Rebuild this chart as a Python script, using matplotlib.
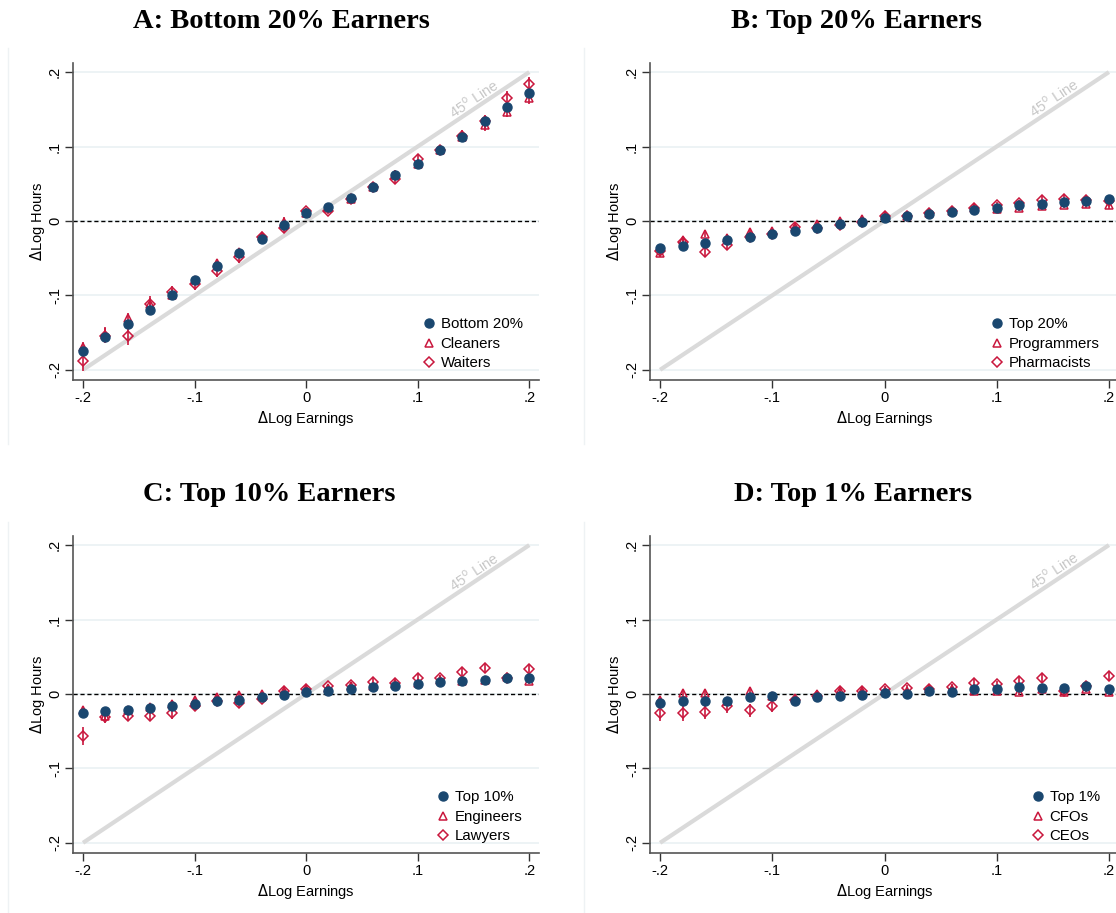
import matplotlib
matplotlib.use("Agg")
import matplotlib.pyplot as plt
from matplotlib.lines import Line2D

# x bins of log earnings change
x = [-0.20, -0.18, -0.16, -0.14, -0.12, -0.10, -0.08, -0.06, -0.04, -0.02, 0.00,
     0.02, 0.04, 0.06, 0.08, 0.10, 0.12, 0.14, 0.16, 0.18, 0.20]

# Panel A
bottom20 = [-0.175, -0.156, -0.138, -0.120, -0.100, -0.079, -0.061, -0.043, -0.024, -0.006, 0.011,
            0.019, 0.031, 0.045, 0.062, 0.077, 0.095, 0.113, 0.134, 0.153, 0.172]
cleaners = [-0.170, -0.153, -0.131, -0.111, -0.099, -0.080, -0.057, -0.042, -0.020, -0.001, 0.011,
            0.017, 0.029, 0.046, 0.062, 0.077, 0.095, 0.113, 0.129, 0.147, 0.165]
waiters = [-0.188, -0.154, -0.155, -0.111, -0.096, -0.085, -0.067, -0.049, -0.021, -0.010, 0.013,
           0.014, 0.029, 0.045, 0.057, 0.083, 0.095, 0.114, 0.134, 0.165, 0.184]
cleaners_ci = [0.007, 0.010, 0.007, 0.008, 0.007, 0.006, 0.006, 0.006, 0.005, 0.006, 0.004,
               0.004, 0.005, 0.006, 0.006, 0.006, 0.007, 0.007, 0.008, 0.008, 0.008]
waiters_ci = [0.013, 0.010, 0.012, 0.010, 0.009, 0.008, 0.008, 0.007, 0.006, 0.006, 0.005,
              0.005, 0.005, 0.006, 0.006, 0.007, 0.007, 0.008, 0.009, 0.010, 0.010]

# Panel B
top20 = [-0.036, -0.033, -0.030, -0.026, -0.022, -0.017, -0.013, -0.010, -0.004, -0.001, 0.004,
         0.007, 0.009, 0.012, 0.015, 0.018, 0.021, 0.023, 0.026, 0.027, 0.030]
programmers = [-0.043, -0.025, -0.017, -0.023, -0.015, -0.013, -0.008, -0.004, 0.000, 0.002, 0.007,
               0.007, 0.011, 0.014, 0.017, 0.016, 0.017, 0.020, 0.022, 0.023, 0.021]
pharmacists = [-0.040, -0.028, -0.042, -0.032, -0.021, -0.017, -0.008, -0.010, -0.005, -0.002, 0.006,
               0.007, 0.011, 0.014, 0.017, 0.021, 0.024, 0.028, 0.030, 0.028, 0.027]
programmers_ci = [0.006, 0.005, 0.005, 0.005, 0.005, 0.004, 0.004, 0.004, 0.004, 0.004, 0.003,
                  0.003, 0.003, 0.004, 0.004, 0.004, 0.004, 0.005, 0.005, 0.005, 0.005]
pharmacists_ci = [0.006, 0.005, 0.006, 0.006, 0.005, 0.004, 0.004, 0.004, 0.004, 0.004, 0.003,
                  0.003, 0.003, 0.004, 0.004, 0.004, 0.004, 0.005, 0.005, 0.005, 0.005]

# Panel C
top10 = [-0.025, -0.023, -0.022, -0.019, -0.016, -0.013, -0.010, -0.008, -0.004, -0.001, 0.003,
         0.004, 0.007, 0.009, 0.011, 0.013, 0.016, 0.017, 0.019, 0.021, 0.022]
engineers = [-0.022, -0.029, -0.022, -0.017, -0.014, -0.008, -0.004, -0.002, 0.000, 0.004, 0.006,
             0.008, 0.010, 0.010, 0.014, 0.015, 0.019, 0.017, 0.019, 0.023, 0.017]
lawyers = [-0.057, -0.031, -0.029, -0.029, -0.026, -0.016, -0.010, -0.012, -0.007, 0.004, 0.006,
           0.010, 0.012, 0.016, 0.015, 0.022, 0.021, 0.030, 0.035, 0.021, 0.033]
engineers_ci = [0.004, 0.007, 0.005, 0.004, 0.004, 0.004, 0.004, 0.004, 0.003, 0.003, 0.003,
                0.003, 0.003, 0.003, 0.003, 0.003, 0.003, 0.004, 0.004, 0.004, 0.004]
lawyers_ci = [0.012, 0.008, 0.008, 0.008, 0.007, 0.006, 0.005, 0.005, 0.004, 0.004, 0.004,
              0.004, 0.004, 0.005, 0.005, 0.005, 0.005, 0.006, 0.006, 0.006, 0.006]

# Panel D
top1 = [-0.012, -0.009, -0.009, -0.010, -0.004, -0.003, -0.009, -0.004, -0.003, -0.001, 0.001,
        0.000, 0.004, 0.003, 0.006, 0.006, 0.009, 0.008, 0.008, 0.010, 0.007]
cfos = [-0.008, 0.001, 0.001, -0.009, 0.004, -0.003, -0.006, 0.000, 0.004, 0.004, 0.004,
        0.004, 0.006, 0.006, 0.004, 0.004, 0.003, 0.006, 0.003, 0.006, 0.002]
ceos = [-0.026, -0.026, -0.024, -0.016, -0.022, -0.016, -0.008, -0.003, 0.004, 0.004, 0.006,
        0.008, 0.006, 0.009, 0.015, 0.013, 0.017, 0.022, 0.004, 0.010, 0.024]
cfos_ci = [0.005, 0.005, 0.005, 0.005, 0.005, 0.004, 0.004, 0.004, 0.004, 0.004, 0.003,
           0.003, 0.003, 0.004, 0.004, 0.004, 0.004, 0.004, 0.004, 0.004, 0.005]
ceos_ci = [0.010, 0.011, 0.010, 0.009, 0.009, 0.008, 0.006, 0.005, 0.005, 0.004, 0.004,
           0.004, 0.004, 0.005, 0.005, 0.005, 0.006, 0.006, 0.006, 0.006, 0.007]

yticks = [-0.2, -0.1, 0.0, 0.1, 0.2]
tick_labels = ["-.2", "-.1", "0", ".1", ".2"]

NAVY = "#1a476f"
RED = "#c9173d"
GRID = "#e8f0f2"
W, H = 1116, 913

plt.rcParams["font.family"] = ["Liberation Sans", "DejaVu Sans"]

fig = plt.figure(figsize=(W / 100, H / 100), dpi=100)


def px_axes(left, right, top, bottom):
    return fig.add_axes([left / W, 1 - bottom / H, (right - left) / W, (bottom - top) / H])


def draw_panel(ax, xlim, base, base_lab, occ1, occ1_ci, occ1_lab, occ2, occ2_ci, occ2_lab):
    ax.set_xlim(*xlim)
    ax.set_ylim(-0.2137, 0.2122)
    for yv in yticks:
        ax.axhline(yv, color=GRID, lw=1.1, zorder=0)
    ax.plot([-0.2, 0.2], [-0.2, 0.2], color="#dadada", lw=3, solid_capstyle="butt", zorder=1)
    ax.axhline(0, color="black", lw=1, ls=(0, (3, 2)), zorder=2)
    ax.text(0.151, 0.164, "45$^\\mathrm{o}$ Line", color="#c8c8c8", fontsize=10.5,
            rotation=45, transform_rotates_text=True, ha="center", va="center",
            rotation_mode="anchor", zorder=2)

    ax.errorbar(x, occ1, yerr=occ1_ci, fmt="^", ms=6, mfc="none", mec=RED, mew=1.1,
                ecolor=RED, elinewidth=1.2, capsize=0, zorder=3)
    ax.errorbar(x, occ2, yerr=occ2_ci, fmt="D", ms=5.5, mfc="none", mec=RED, mew=1.1,
                ecolor=RED, elinewidth=1.2, capsize=0, zorder=3)
    ax.plot(x, base, "o", ms=6.5, color=NAVY, zorder=4)

    handles = [Line2D([], [], ls="none", marker="o", ms=6.5, color=NAVY),
               Line2D([], [], ls="none", marker="^", ms=6, mfc="none", mec=RED, mew=1.1),
               Line2D([], [], ls="none", marker="D", ms=5.5, mfc="none", mec=RED, mew=1.1)]
    ax.legend(handles, [base_lab, occ1_lab, occ2_lab], loc="lower right",
              bbox_to_anchor=(0.965, 0.03), frameon=False, fontsize=10.8,
              handlelength=0.8, handletextpad=0.4, labelspacing=0.38, borderpad=0,
              borderaxespad=0)

    ax.set_xticks(yticks)
    ax.set_xticklabels(tick_labels)
    ax.set_yticks(yticks)
    ax.set_yticklabels(tick_labels, rotation=90, va="center")
    ax.tick_params(axis="both", length=6, width=1, color="#333333", labelsize=10.5)
    ax.tick_params(axis="x", pad=2)
    ax.tick_params(axis="y", pad=2)
    for side in ["top", "right"]:
        ax.spines[side].set_visible(False)
    for side in ["left", "bottom"]:
        ax.spines[side].set_color("#555555")
        ax.spines[side].set_linewidth(1.2)

    ax.set_xlabel("$\\Delta$Log Earnings", fontsize=10.5)
    ax.set_ylabel("$\\Delta$Log Hours", fontsize=10.5)
    x0 = (0 - xlim[0]) / (xlim[1] - xlim[0])
    ax.xaxis.set_label_coords(x0, -0.123)
    ax.xaxis.label.set_va("center")
    ax.yaxis.set_label_coords(-0.077, 0.5)
    ax.yaxis.label.set_va("center")


left_lim = (-0.209, 0.2087)
right_lim = (-0.209, 0.2063)

axA = px_axes(73, 539, 63, 380)
axB = px_axes(650, 1116, 63, 380)
axC = px_axes(73, 539, 536, 853)
axD = px_axes(650, 1116, 536, 853)

draw_panel(axA, left_lim, bottom20, "Bottom 20%", cleaners, cleaners_ci, "Cleaners",
           waiters, waiters_ci, "Waiters")
draw_panel(axB, right_lim, top20, "Top 20%", programmers, programmers_ci, "Programmers",
           pharmacists, pharmacists_ci, "Pharmacists")
draw_panel(axC, left_lim, top10, "Top 10%", engineers, engineers_ci, "Engineers",
           lawyers, lawyers_ci, "Lawyers")
draw_panel(axD, right_lim, top1, "Top 1%", cfos, cfos_ci, "CFOs",
           ceos, ceos_ci, "CEOs")

titles = [("A: Bottom 20% Earners", 281, 21), ("B: Top 20% Earners", 857, 21),
          ("C: Top 10% Earners", 269, 494), ("D: Top 1% Earners", 853, 494)]
for t, tx, ty in titles:
    fig.text(tx / W, 1 - ty / H, t, ha="center", va="center", fontsize=20.5,
             fontweight="bold", family=["Liberation Serif", "DejaVu Serif"])

# faint region outlines of the combined graph
for xs in [8, 584]:
    fig.add_artist(Line2D([xs / W, xs / W], [1 - 48 / H, 1 - 444 / H], color="#eef2f4", lw=1))
    fig.add_artist(Line2D([xs / W, xs / W], [1 - 522 / H, 0], color="#eef2f4", lw=1))

fig.savefig("out.png", dpi=100)
